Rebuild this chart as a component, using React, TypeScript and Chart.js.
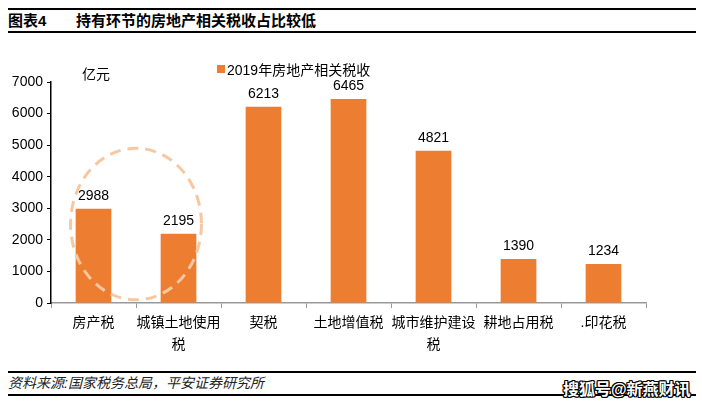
import React, { useEffect, useRef } from "react";
import { Chart, registerables } from "chart.js";

Chart.register(...registerables);

const categories: (string | string[])[] = [
  "房产税",
  ["城镇土地使用", "税"],
  "契税",
  "土地增值税",
  ["城市维护建设", "税"],
  "耕地占用税",
  ".印花税",
];
const seriesName = "2019年房地产相关税收";
const values = [2988, 2195, 6213, 6465, 4821, 1390, 1234];
const yTicks = [0, 1000, 2000, 3000, 4000, 5000, 6000, 7000];

const FONT = "'Liberation Sans', Arial, 'Noto Sans CJK SC', sans-serif";
const ORANGE = "#ED7D31";

const valueLabels = {
  id: "valueLabels",
  afterDatasetsDraw(chart: any) {
    const ctx = chart.ctx;
    const meta = chart.getDatasetMeta(0);
    ctx.save();
    ctx.font = `14px ${FONT}`;
    ctx.fillStyle = "#000";
    ctx.textAlign = "center";
    ctx.textBaseline = "alphabetic";
    meta.data.forEach((bar: any, i: number) => {
      ctx.fillText(String(values[i]), bar.x, bar.y - 9);
    });
    ctx.restore();
  },
};

const ellipse = {
  id: "ellipse",
  afterDatasetsDraw(chart: any) {
    const ctx = chart.ctx;
    const xs = chart.scales.x;
    const ys = chart.scales.y;
    const cx = (xs.getPixelForValue(0) + xs.getPixelForValue(1)) / 2;
    const cy = ys.getPixelForValue(2500);
    const rx = (xs.getPixelForValue(1) - xs.getPixelForValue(0)) * 0.77;
    const ry = ys.getPixelForValue(0) - ys.getPixelForValue(2400);
    ctx.save();
    ctx.strokeStyle = "#F8C7A0";
    ctx.lineWidth = 3;
    ctx.setLineDash([11, 7]);
    ctx.beginPath();
    ctx.ellipse(cx, cy, rx, ry, 0, 0, Math.PI * 2);
    ctx.stroke();
    ctx.restore();
  },
};

export default function App() {
  const ref = useRef<HTMLCanvasElement>(null);
  useEffect(() => {
    document.body.style.margin = "0";
    const chart = new Chart(ref.current!, {
      type: "bar",
      data: {
        labels: categories,
        datasets: [
          {
            label: seriesName,
            data: values,
            backgroundColor: ORANGE,
            borderWidth: 0,
            categoryPercentage: 1,
            barPercentage: 0.42,
          },
        ],
      },
      plugins: [valueLabels, ellipse],
      options: {
        animation: false,
        responsive: false,
        maintainAspectRatio: false,
        layout: { padding: { left: 0, right: 56, top: 42, bottom: 0 } },
        plugins: {
          legend: { display: false },
          tooltip: { enabled: false },
        },
        scales: {
          x: {
            grid: {
              offset: true,
              drawOnChartArea: false,
              drawTicks: true,
              tickLength: 5,
              color: "#999",
            },
            border: { color: "#999", width: 1.5 },
            ticks: {
              color: "#000",
              font: { family: FONT, size: 14, lineHeight: 1.6 },
              padding: 4,
              maxRotation: 0,
              autoSkip: false,
            },
            afterFit: (s: any) => {
              s.height = 57;
            },
          },
          y: {
            min: 0,
            max: 7000,
            afterBuildTicks: (s: any) => {
              s.ticks = yTicks.map((v) => ({ value: v }));
            },
            grid: {
              drawOnChartArea: false,
              drawTicks: true,
              tickLength: 4,
              color: "#000",
            },
            border: { color: "#000", width: 1.5 },
            ticks: {
              color: "#000",
              font: { family: FONT, size: 14 },
              padding: 4,
              callback: (v: any) => String(v),
            },
            afterFit: (s: any) => {
              s.width = 51;
            },
          },
        },
      },
    });
    return () => chart.destroy();
  }, []);

  return (
    <div
      style={{
        position: "relative",
        width: 702,
        height: 409,
        background: "#fff",
        fontFamily: FONT,
        overflow: "hidden",
      }}
    >
      <div style={{ position: "absolute", left: 8, top: 8, width: 688, height: 2, background: "#000" }} />
      <div
        style={{
          position: "absolute",
          left: 8,
          top: 12,
          fontSize: 15,
          fontWeight: "bold",
          whiteSpace: "nowrap",
          lineHeight: "18px",
        }}
      >
        图表4
      </div>
      <div
        style={{
          position: "absolute",
          left: 76,
          top: 12,
          fontSize: 15,
          fontWeight: "bold",
          whiteSpace: "nowrap",
          lineHeight: "18px",
        }}
      >
        持有环节的房地产相关税收占比较低
      </div>
      <div style={{ position: "absolute", left: 8, top: 31, width: 688, height: 2, background: "#000" }} />

      <canvas
        ref={ref}
        width={702}
        height={320}
        style={{ position: "absolute", left: 0, top: 40, width: 702, height: 320 }}
      />

      <div style={{ position: "absolute", left: 82, top: 63, fontSize: 14, whiteSpace: "nowrap", color: "#000" }}>
        亿元
      </div>
      <div
        style={{
          position: "absolute",
          left: 217,
          top: 59,
          fontSize: 14,
          whiteSpace: "nowrap",
          display: "flex",
          alignItems: "center",
          color: "#000",
        }}
      >
        <span style={{ display: "inline-block", width: 8, height: 8, background: ORANGE, marginRight: 2 }} />
        {seriesName}
      </div>

      <div style={{ position: "absolute", left: 8, top: 371, width: 688, height: 2, background: "#000" }} />
      <div
        style={{
          position: "absolute",
          left: 8,
          top: 374,
          fontSize: 14,
          fontStyle: "italic",
          whiteSpace: "nowrap",
          color: "#222",
          lineHeight: "18px",
        }}
      >
        资料来源:国家税务总局，平安证券研究所
      </div>
      <div style={{ position: "absolute", left: 8, top: 394, width: 688, height: 2, background: "#000" }} />
      <div
        style={{
          position: "absolute",
          left: 563,
          top: 380,
          fontSize: 16,
          fontWeight: "bold",
          whiteSpace: "nowrap",
          color: "#fff",
          lineHeight: "20px",
          textShadow:
            "1px 0 0 #000, -1px 0 0 #000, 0 1px 0 #000, 0 -1px 0 #000, 1px 1px 0 #000, -1px -1px 0 #000, 1px -1px 0 #000, -1px 1px 0 #000",
        }}
      >
        搜狐号@新燕财讯
      </div>
    </div>
  );
}
